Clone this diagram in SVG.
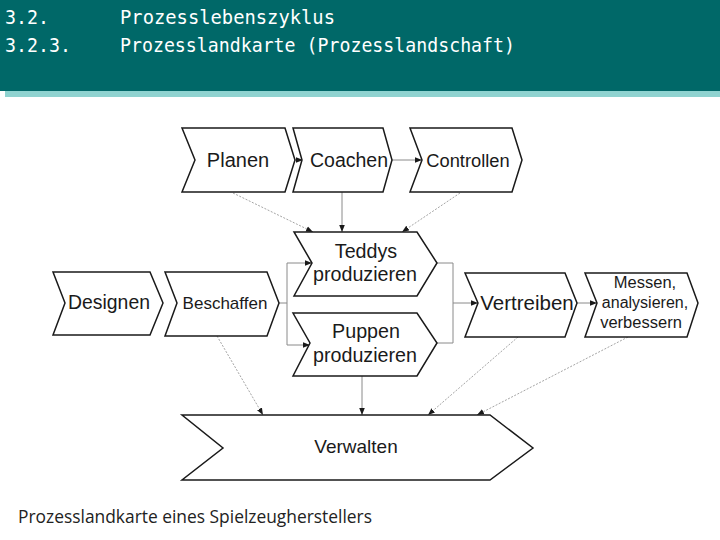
<svg xmlns="http://www.w3.org/2000/svg" width="720" height="540" viewBox="0 0 720 540">
<defs>
<style>
.hd{font-family:"DejaVu Sans Mono","Liberation Mono",monospace;font-size:20px;fill:#ffffff}
.box{fill:#ffffff;stroke:#1a1a1a;stroke-width:1.5;stroke-linejoin:miter}
.t{font-family:"Liberation Sans",Arial,sans-serif;fill:#1a1a1a;text-anchor:middle}
.c{fill:none;stroke:#8a8a8a;stroke-width:1}
.d{fill:none;stroke:#9a9a9a;stroke-width:0.9;stroke-dasharray:2 1.5}
</style>
<marker id="ah" viewBox="0 0 10 10" refX="10" refY="5" markerWidth="7" markerHeight="7" markerUnits="userSpaceOnUse" orient="auto">
<path d="M0,1 L10,5 L0,9 Z" fill="#1a1a1a"/>
</marker>
</defs>
<rect width="720" height="540" fill="#ffffff"/>
<g id="header">
<rect x="0" y="0" width="720" height="91" fill="#006868"/>
<rect x="5" y="91" width="715" height="6" fill="#8fd3d0"/>
<text class="hd" x="5" y="24" textLength="44" lengthAdjust="spacingAndGlyphs">3.2.</text>
<text class="hd" x="120" y="24" textLength="215" lengthAdjust="spacingAndGlyphs">Prozesslebenszyklus</text>
<text class="hd" x="5" y="52" textLength="66" lengthAdjust="spacingAndGlyphs">3.2.3.</text>
<text class="hd" x="120" y="52" textLength="395" lengthAdjust="spacingAndGlyphs">Prozesslandkarte (Prozesslandschaft)</text>
</g>
<g id="connectors">
<line class="c" x1="295" y1="160" x2="303" y2="160" marker-end="url(#ah)"/>
<line class="c" x1="392" y1="160" x2="422" y2="160" marker-end="url(#ah)"/>
<line class="c" x1="342" y1="192" x2="342" y2="232" marker-end="url(#ah)"/>
<line class="d" x1="233" y1="193" x2="313" y2="232" marker-end="url(#ah)"/>
<line class="d" x1="460" y1="193" x2="402" y2="232" marker-end="url(#ah)"/>
<polyline class="c" points="279,303 287,303"/>
<polyline class="c" points="287,263 287,345"/>
<line class="c" x1="287" y1="263" x2="312" y2="263" marker-end="url(#ah)"/>
<line class="c" x1="287" y1="345" x2="310" y2="345" marker-end="url(#ah)"/>
<polyline class="c" points="437,263 453,263 453,343 437,343"/>
<line class="c" x1="453" y1="303" x2="478" y2="303" marker-end="url(#ah)"/>
<line class="c" x1="577" y1="303" x2="597" y2="303" marker-end="url(#ah)"/>
<line class="d" x1="217" y1="336" x2="263" y2="415" marker-end="url(#ah)"/>
<line class="c" x1="362" y1="376" x2="362" y2="415" marker-end="url(#ah)"/>
<line class="d" x1="518" y1="337" x2="428" y2="415" marker-end="url(#ah)"/>
<line class="d" x1="628" y1="337" x2="477" y2="415" marker-end="url(#ah)"/>
</g>
<g id="planen">
<polygon class="box" points="182,128 285,128 295,160 285,192 182,192 195,160"/>
<text class="t" x="238" y="167" font-size="20">Planen</text>
</g>
<g id="coachen">
<polygon class="box" points="293,128 383,128 392,160 383,192 293,192 302,160"/>
<text class="t" x="349" y="167" font-size="19.5">Coachen</text>
</g>
<g id="controllen">
<polygon class="box" points="410,128 512,128 522,160 512,192 410,192 422,160"/>
<text class="t" x="468" y="167" font-size="18.3">Controllen</text>
</g>
<g id="teddys">
<polygon class="box" points="294,232 417,232 437,263 417,296 294,296 312,263"/>
<text class="t" x="366" y="258" font-size="19.7">Teddys</text>
<text class="t" x="365" y="281" font-size="19.7">produzieren</text>
</g>
<g id="puppen">
<polygon class="box" points="293,313 417,313 437,343 417,376 293,376 310,343"/>
<text class="t" x="366" y="338" font-size="19.7">Puppen</text>
<text class="t" x="365" y="362" font-size="19.7">produzieren</text>
</g>
<g id="designen">
<polygon class="box" points="53,272 150,272 163,303 150,335 53,335 65,303"/>
<text class="t" x="109" y="309" font-size="19.4">Designen</text>
</g>
<g id="beschaffen">
<polygon class="box" points="165,272 267,272 279,303 267,336 165,336 177,303"/>
<text class="t" x="225" y="309" font-size="17">Beschaffen</text>
</g>
<g id="vertreiben">
<polygon class="box" points="465,273 565,273 577,303 565,337 465,337 478,303"/>
<text class="t" x="527" y="310" font-size="20.5">Vertreiben</text>
</g>
<g id="messen">
<polygon class="box" points="585,273 687,273 698,303 687,337 585,337 597,303"/>
<text class="t" x="645" y="288" font-size="16.5">Messen,</text>
<text class="t" x="645" y="308" font-size="16">analysieren,</text>
<text class="t" x="641" y="328" font-size="16.5">verbessern</text>
</g>
<g id="verwalten">
<polygon class="box" points="182,415 490,415 533,448 490,480 182,480 223,448"/>
<text class="t" x="356" y="453" font-size="19">Verwalten</text>
</g>
<text x="18" y="523" font-family="'Open Sans','Noto Sans',sans-serif" font-size="18" fill="#222222" textLength="354" lengthAdjust="spacingAndGlyphs">Prozesslandkarte eines Spielzeugherstellers</text>
</svg>
